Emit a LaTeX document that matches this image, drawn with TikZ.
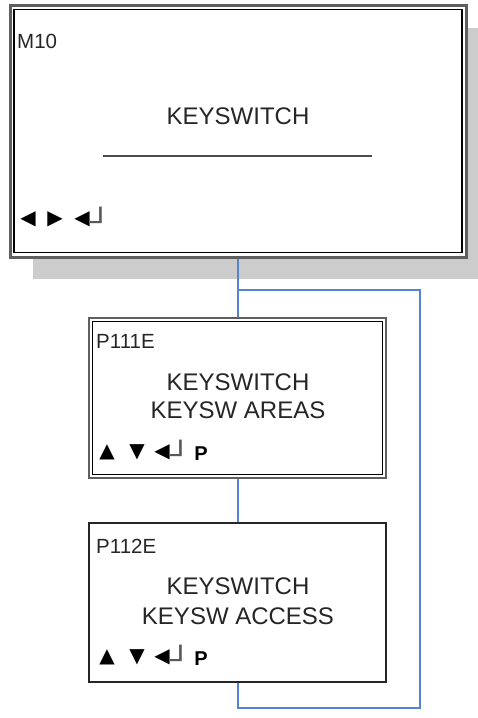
\documentclass[tikz,border=0pt]{standalone}
\usepackage{fontspec}
\setmainfont{Liberation Sans}
\newfontfamily\symf{DejaVu Sans}
\definecolor{conn}{RGB}{84,132,212}
\definecolor{shadowc}{RGB}{204,204,204}
\definecolor{framec}{RGB}{95,95,95}
\begin{document}
\begin{tikzpicture}[x=1pt,y=-1pt,
  outerframe/.style={draw=framec, line width=3pt, fill=white, inner sep=0pt},
  outerframeb/.style={draw=framec, line width=2.2pt, fill=white, inner sep=0pt},
  plainframe/.style={draw=black!85, line width=1.4pt, fill=white, inner sep=0pt},
  innerline/.style={draw=black, line width=1.2pt},
  innerlineb/.style={draw=black, line width=1pt},
  lbl/.style={inner sep=0pt, anchor=base west, font=\fontsize{20.5}{24}\selectfont, text=black!85},
  ttl/.style={inner sep=0pt, anchor=base, font=\fontsize{24}{28}\selectfont, text=black!85},
  sym/.style={inner sep=0pt, anchor=center, font=\symf\fontsize{20}{24}\selectfont},
  crn/.style={inner sep=0pt, anchor=base west, text=black!65, font=\symf\fontsize{26}{30}\selectfont},
  pk/.style={inner sep=0pt, anchor=base, font=\fontsize{20}{24}\selectfont\bfseries},
  link/.style={draw=conn, line width=1.2pt}]
\useasboundingbox (0,0) rectangle (478,718);
% shadow of the menu box
\fill[shadowc] (33,28) rectangle (478,279);
% M10 box
\node[outerframe, minimum width=456pt, minimum height=252pt] (m10) at (238,131) {};
\draw[innerline] ([shift={(5.5,6)}]m10.north west) rectangle ([shift={(-5.5,-6)}]m10.south east);
\node[lbl] (m10id) at (17,48) {M10};
\node[ttl] (m10t) at (238,124) {KEYSWITCH};
\draw[line width=2.2pt, draw=black!70] (103,156) -- (372,156);
\node[sym] (m10a) at (28,219) {◀};
\node[sym] (m10b) at (55,219) {▶};
\node[sym] (m10c) at (82,219) {◀};
\node[crn] (m10d) at (90.2,231) {\scalebox{1.3}[1]{┘}};
% P111E box
\node[outerframeb, minimum width=297pt, minimum height=160pt] (p111) at (237.5,398) {};
\draw[innerlineb] ([shift={(4.5,4.5)}]p111.north west) rectangle ([shift={(-4.5,-4.5)}]p111.south east);
\node[lbl] (p111id) at (96,348) {P111E};
\node[ttl] (p111t) at (238,390) {KEYSWITCH};
\node[ttl] (p111s) at (238,418) {KEYSW AREAS};
\node[sym] (p111a) at (107,452) {▲};
\node[sym] (p111b) at (137,452) {▼};
\node[sym] (p111c) at (162,452) {◀};
\node[crn] (p111d) at (170.2,464) {\scalebox{1.3}[1]{┘}};
\node[pk] (p111p) at (201,460) {P};
% P112E box
\node[plainframe, minimum width=297pt, minimum height=159pt] (p112) at (237.5,602.5) {};
\node[lbl] (p112id) at (96,553) {P112E};
\node[ttl] (p112t) at (238,594) {KEYSWITCH};
\node[ttl] (p112s) at (238,624) {KEYSW ACCESS};
\node[sym] (p112a) at (107,657) {▲};
\node[sym] (p112b) at (137,657) {▼};
\node[sym] (p112c) at (162,657) {◀};
\node[crn] (p112d) at (170.2,669) {\scalebox{1.3}[1]{┘}};
\node[pk] (p112p) at (201,665) {P};
% connectors
\coordinate (br) at (238,290);
\coordinate (r1) at (420,290);
\coordinate (r2) at (420,708);
\coordinate (b2) at (238,708);
\draw[link] (m10.south -| br) -- (p111.north -| br);
\draw[link] (br) -- (r1) -- (r2) -- (b2) -- (p112.south -| b2);
\draw[link] (p111.south -| br) -- (p112.north -| br);
\end{tikzpicture}
\end{document}
